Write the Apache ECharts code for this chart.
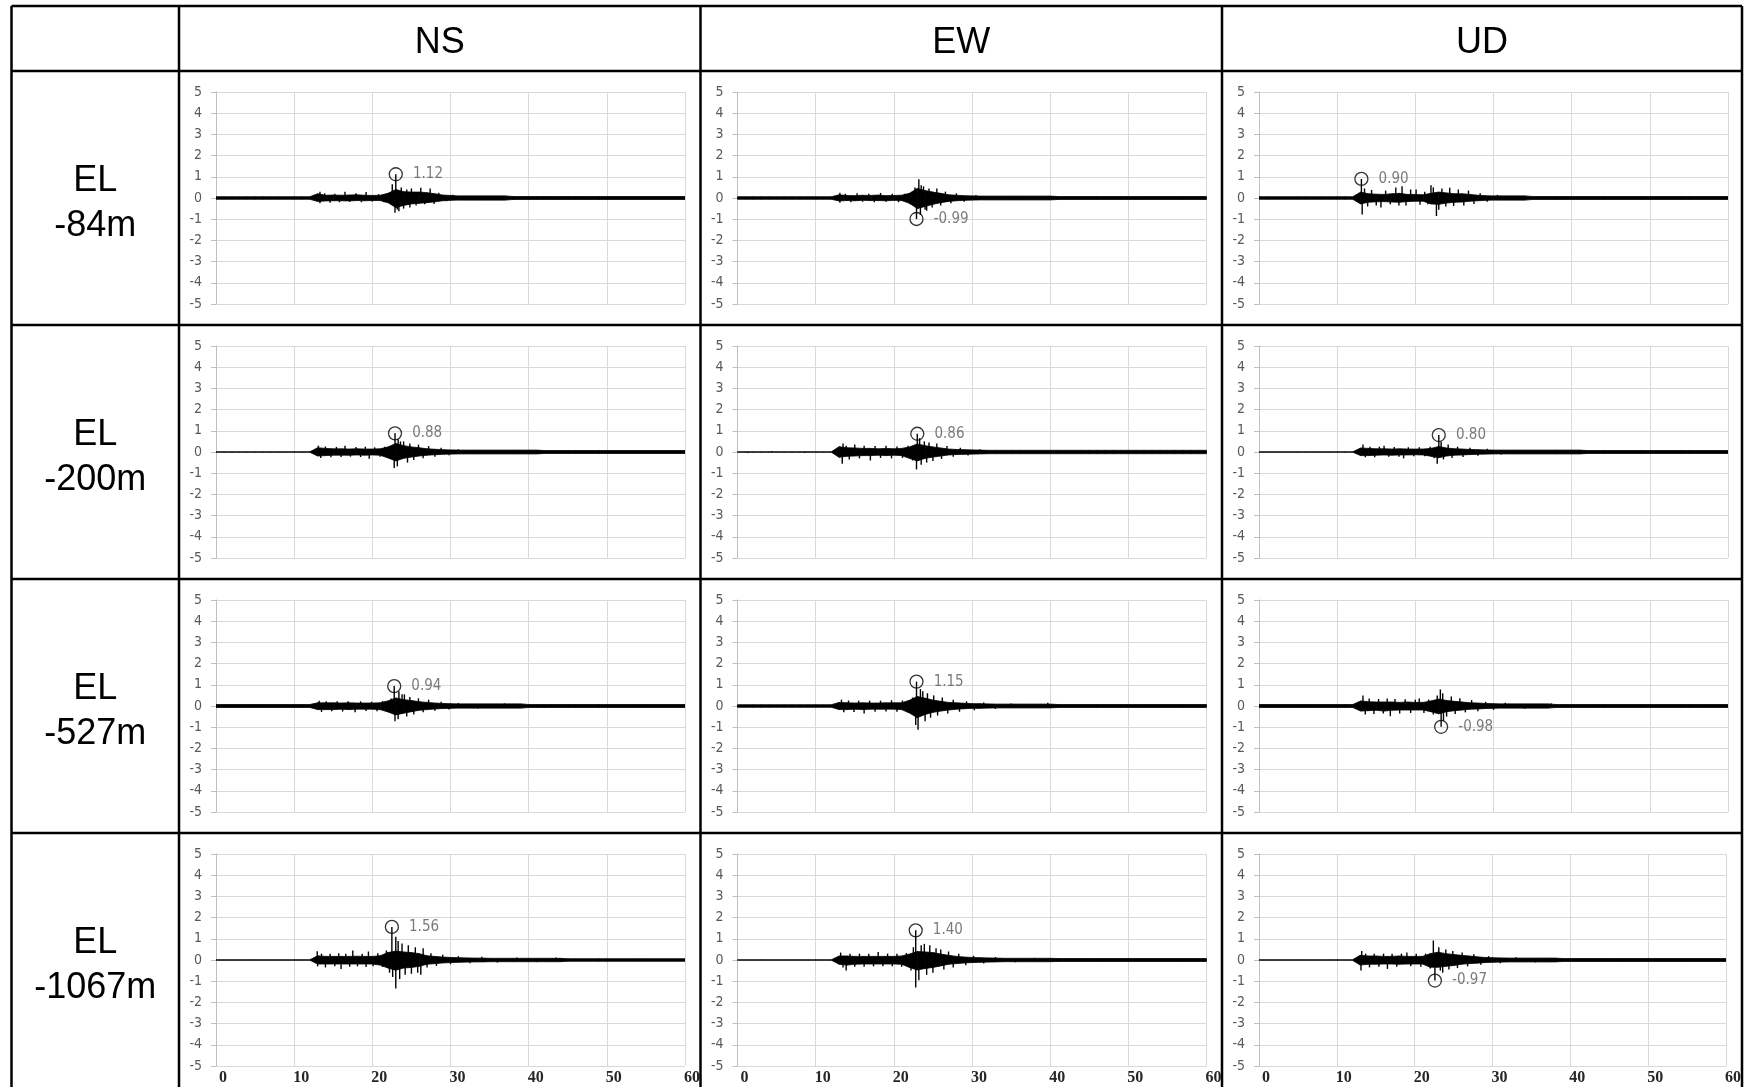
<!DOCTYPE html>
<html><head><meta charset="utf-8">
<script src="https://cdn.jsdelivr.net/npm/echarts@6/dist/echarts.min.js"></script>
<style>html,body{margin:0;padding:0;background:#fff}#c{width:1744px;height:1087px}</style>
</head><body><div id="c"></div><script>
// ---------- labels ----------
const COLUMN_TITLES = ['NS', 'EW', 'UD'];
const ROW_TITLES = [['EL', '-84m'], ['EL', '-200m'], ['EL', '-527m'], ['EL', '-1067m']];
const X_TICKS = [0, 10, 20, 30, 40, 50, 60];
const Y_MIN = -5, Y_MAX = 5;

// ---------- waveforms: dense-core envelope (units of 0.01), one value per second t = 0..60,
// ---------- plus individual spikes [t, value] and the labelled peak [t, value]
// EL -84m
const NS84_UP = [6,6,6,6,6,6,6,6,6,6,6,6,6, 20,13,14,13,14,15,13,12,13,22,40,30,28,28,25,20,14,12,10, 10,10,10,10,10,10, 7,7,7,7,7,7,7,7,7,7,7,7,7,7,7,7,7,7,7,7,7,7,7];
const NS84_LO = [-6,-6,-6,-6,-6,-6,-6,-6,-6,-6,-6,-6,-6, -16,-14,-13,-13,-14,-12,-13,-12,-12,-22,-45,-35,-28,-25,-22,-18,-13,-11,-10, -10,-10,-10,-10,-10,-10, -7,-7,-7,-7,-7,-7,-7,-7,-7,-7,-7,-7,-7,-7,-7,-7,-7,-7,-7,-7,-7,-7,-7];
const NS84_SPIKES = [[13.3,0.30],[13.3,-0.25],[13.9,0.22],[14.6,-0.22],[15.2,0.20],[15.8,-0.20],[16.5,0.30],[17.1,-0.18],[17.9,0.22],[18.6,-0.20],[19.2,0.28],[20.0,-0.17],[20.8,0.18],[21.5,-0.20],[22.2,0.25],[22.55,0.65],[22.9,-0.70],[23.2,-0.55],[23.4,-0.62],[23.7,0.50],[24.0,-0.50],[24.4,0.40],[24.8,-0.45],[25.0,0.45],[25.6,-0.35],[26.2,0.48],[26.7,-0.30],[27.4,0.45],[27.9,-0.28],[28.5,0.25],[29.5,-0.15],[30.3,0.15]];
const NS84_PEAK = [23.0, 1.12];

const EW84_UP = [6,6,6,6,6,6,6,6,6,6,6,6,6, 15,12,11,13,12,14,11,12,13,22,45,35,28,22,15,13,11,10, 9,9,9,9,9,9,9,9,9,9, 7,7,7,7,7,7,7,7,7,7,7,7,7,7,7,7,7,7,7,7];
const EW84_LO = [-6,-6,-6,-6,-6,-6,-6,-6,-6,-6,-6,-6,-6, -14,-12,-13,-11,-12,-12,-13,-11,-12,-25,-50,-40,-30,-22,-16,-13,-11,-10, -9,-9,-9,-9,-9,-9,-9,-9,-9,-9, -7,-7,-7,-7,-7,-7,-7,-7,-7,-7,-7,-7,-7,-7,-7,-7,-7,-7,-7,-7];
const EW84_SPIKES = [[13.1,0.25],[13.1,-0.22],[13.8,0.20],[14.5,-0.20],[15.3,0.22],[16.0,-0.18],[16.8,0.20],[17.5,-0.20],[18.3,0.24],[19.0,-0.18],[19.8,0.20],[20.6,-0.20],[21.4,0.20],[22.1,-0.30],[22.7,0.50],[23.2,0.88],[23.4,-0.80],[23.5,0.60],[23.8,0.55],[24.0,-0.55],[24.2,-0.60],[24.5,0.45],[24.9,-0.45],[25.5,0.45],[26.0,-0.35],[26.6,0.30],[27.3,-0.25],[28.0,0.22],[29.0,-0.18],[30.5,0.14]];
const EW84_PEAK = [22.9, -0.99];

const UD84_UP = [6,6,6,6,6,6,6,6,6,6,6,6,6, 28,20,18,17,20,22,17,17,15,22,28,24,20,20,17,13,11,10, 10,10,10,10, 7,7,7,7,7,7,7,7,7,7,7,7,7,7,7,7,7,7,7,7,7,7,7,7,7,7];
const UD84_LO = [-6,-6,-6,-6,-6,-6,-6,-6,-6,-6,-6,-6,-6, -28,-20,-18,-17,-19,-20,-17,-15,-15,-28,-30,-24,-20,-19,-15,-13,-11,-10, -10,-10,-10,-10, -7,-7,-7,-7,-7,-7,-7,-7,-7,-7,-7,-7,-7,-7,-7,-7,-7,-7,-7,-7,-7,-7,-7,-7,-7,-7];
const UD84_SPIKES = [[13.2,-0.78],[13.5,0.45],[13.9,-0.40],[14.4,0.38],[15.0,-0.35],[15.6,-0.45],[16.2,0.35],[16.8,-0.30],[17.5,0.50],[17.9,-0.35],[18.3,0.55],[18.8,-0.35],[19.4,0.40],[20.1,0.40],[20.6,-0.32],[21.2,0.30],[21.6,-0.30],[22.0,0.60],[22.3,0.50],[22.7,-0.85],[23.0,-0.55],[23.4,0.45],[23.9,-0.40],[24.4,0.48],[24.9,-0.38],[25.5,0.40],[26.2,-0.35],[26.8,0.35],[27.5,-0.28],[28.3,0.22],[29.2,-0.18],[30.5,0.15]];
const UD84_PEAK = [13.1, 0.90];

// EL -200m
const NS200_UP = [1,1,1,1,1,1,1,1,1,1,1,1,1, 20,17,15,15,14,15,14,14,15,24,40,30,24,20,15,13,11,10, 9,9,9,9,9,9,9,9,9,9,9, 7,7,7,7,7,7,7,7,7,7,7,7,7,7,7,7,7,7,7];
const NS200_LO = [-1,-1,-1,-1,-1,-1,-1,-1,-1,-1,-1,-1,-1, -19,-17,-15,-15,-15,-14,-15,-14,-15,-28,-42,-30,-24,-19,-15,-13,-11,-10, -9,-9,-9,-9,-9,-9,-9,-9,-9,-9,-9, -7,-7,-7,-7,-7,-7,-7,-7,-7,-7,-7,-7,-7,-7,-7,-7,-7,-7,-7];
const NS200_SPIKES = [[13.1,0.30],[13.4,-0.28],[14.0,0.26],[14.7,-0.25],[15.4,0.24],[16.0,-0.24],[16.5,0.30],[17.2,-0.22],[17.9,0.24],[18.5,-0.24],[19.1,0.25],[19.6,-0.32],[20.3,0.22],[21.0,-0.22],[21.6,0.25],[22.3,-0.30],[22.8,-0.75],[23.2,-0.68],[23.3,0.60],[23.6,0.50],[24.0,0.50],[24.5,-0.50],[24.8,0.40],[25.3,-0.38],[25.9,0.35],[26.5,-0.30],[27.2,0.28],[28.0,-0.22],[28.8,0.20],[29.8,-0.15],[31.0,0.13]];
const NS200_PEAK = [22.9, 0.88];

const EW200_UP = [1,1,1,1,1,1,1,1,1,1,1,1,1, 25,20,19,17,17,15,17,15,17,24,38,30,24,19,14,12,11,10,9, 8,8,8,8,8,8,8,8,8,8,8,8,8,8,8,8,8,8,8,8,8,8,8,8,8,8,8,8,8];
const EW200_LO = [-1,-1,-1,-1,-1,-1,-1,-1,-1,-1,-1,-1,-1, -25,-20,-19,-17,-17,-15,-17,-15,-17,-30,-42,-30,-24,-19,-14,-12,-11,-10,-9, -8,-8,-8,-8,-8,-8,-8,-8,-8,-8,-8,-8,-8,-8,-8,-8,-8,-8,-8,-8,-8,-8,-8,-8,-8,-8,-8,-8,-8];
const EW200_SPIKES = [[1.3,-0.05],[4.4,0.05],[8.6,-0.05],[13.4,-0.55],[13.5,0.40],[13.9,0.30],[14.3,-0.35],[15.0,0.35],[15.6,-0.30],[16.2,0.30],[17.0,-0.40],[17.6,0.28],[18.3,-0.28],[19.0,0.30],[19.7,-0.30],[20.4,0.26],[21.1,-0.28],[21.8,0.30],[22.4,-0.40],[22.9,-0.82],[23.3,0.65],[23.5,-0.60],[23.9,0.50],[24.2,-0.50],[24.5,0.45],[25.0,-0.42],[25.5,0.40],[26.1,-0.33],[26.8,0.28],[27.6,-0.22],[28.5,0.20],[29.5,-0.17],[31.0,0.13]];
const EW200_PEAK = [23.0, 0.86];

const UD200_UP = [1,1,1,1,1,1,1,1,1,1,1,1,1, 19,17,15,15,14,15,14,14,14,17,26,19,15,14,12,11,10,9, 9,9,9,9,9,9,9,9,9,9,9, 7,7,7,7,7,7,7,7,7,7,7,7,7,7,7,7,7,7,7];
const UD200_LO = [-1,-1,-1,-1,-1,-1,-1,-1,-1,-1,-1,-1,-1, -17,-17,-15,-14,-15,-14,-14,-13,-14,-20,-27,-19,-15,-14,-12,-11,-10,-9, -9,-9,-9,-9,-9,-9,-9,-9,-9,-9,-9, -7,-7,-7,-7,-7,-7,-7,-7,-7,-7,-7,-7,-7,-7,-7,-7,-7,-7,-7];
const UD200_SPIKES = [[13.3,0.35],[13.6,-0.25],[14.2,0.25],[14.8,-0.25],[15.4,0.25],[16.0,0.30],[16.6,-0.22],[17.3,0.24],[17.9,-0.22],[18.5,-0.30],[19.1,0.22],[19.8,-0.20],[20.5,0.22],[21.2,-0.20],[21.9,0.25],[22.4,-0.30],[22.8,-0.55],[23.3,0.50],[23.6,-0.35],[24.2,0.35],[24.7,-0.28],[25.4,0.25],[26.1,-0.24],[27.0,0.20],[28.0,-0.18],[29.2,0.15],[31.0,-0.12],[33.0,0.10]];
const UD200_PEAK = [23.0, 0.80];

// EL -527m
const NS527_UP = [7,7,7,7,7,7,7,7,7,7,7,7,7, 15,15,15,14,15,14,14,14,15,24,38,30,26,20,17,14,12,11, 10,10,10,10,10,10,10,10,10, 7,7,7,7,7,7,7,7,7,7,7,7,7,7,7,7,7,7,7,7,7];
const NS527_LO = [-7,-7,-7,-7,-7,-7,-7,-7,-7,-7,-7,-7,-7, -17,-17,-17,-15,-17,-15,-15,-15,-17,-28,-42,-34,-27,-20,-17,-14,-12,-11, -10,-10,-10,-10,-10,-10,-10,-10,-10, -7,-7,-7,-7,-7,-7,-7,-7,-7,-7,-7,-7,-7,-7,-7,-7,-7,-7,-7,-7,-7];
const NS527_SPIKES = [[13.2,0.25],[13.5,-0.28],[14.1,0.22],[14.8,-0.25],[15.5,0.22],[16.2,-0.26],[16.9,0.22],[17.8,-0.30],[18.5,0.22],[19.2,-0.24],[19.9,0.20],[20.6,-0.25],[21.3,0.23],[22.0,-0.28],[22.4,0.35],[22.9,-0.72],[23.3,-0.62],[23.4,0.68],[23.8,0.55],[24.1,0.55],[24.4,-0.50],[24.8,0.42],[25.3,-0.40],[25.9,0.36],[26.5,-0.30],[27.2,0.30],[28.0,-0.22],[28.8,0.20],[29.8,-0.17],[31.0,0.14],[33.5,-0.12],[36.9,0.12],[42.0,-0.10]];
const NS527_PEAK = [22.8, 0.94];

const EW527_UP = [6,6,6,6,6,6,6,6,6,6,6,6,6, 17,15,14,15,14,14,15,15,15,27,45,37,28,22,17,15,13,11,11,10, 9,9,9,9,9,9,9,9, 7,7,7,7,7,7,7,7,7,7,7,7,7,7,7,7,7,7,7,7];
const EW527_LO = [-6,-6,-6,-6,-6,-6,-6,-6,-6,-6,-6,-6,-6, -17,-17,-15,-17,-15,-15,-15,-15,-17,-33,-55,-40,-30,-24,-19,-15,-13,-11,-11,-10, -9,-9,-9,-9,-9,-9,-9,-9, -7,-7,-7,-7,-7,-7,-7,-7,-7,-7,-7,-7,-7,-7,-7,-7,-7,-7,-7,-7];
const EW527_SPIKES = [[13.3,0.30],[13.6,-0.30],[14.2,0.26],[14.9,-0.28],[15.5,0.25],[16.2,-0.35],[16.9,0.25],[17.6,-0.27],[18.3,0.25],[19.0,-0.26],[19.7,0.27],[20.4,-0.27],[21.1,0.26],[21.8,-0.30],[22.4,0.40],[22.8,-0.90],[23.1,-1.12],[23.4,0.80],[23.7,0.70],[24.0,-0.72],[24.3,0.60],[24.7,-0.55],[25.1,0.50],[25.6,-0.45],[26.2,0.40],[26.9,-0.35],[27.6,0.30],[28.4,-0.27],[29.3,0.22],[30.3,-0.20],[31.5,0.17],[33.0,-0.14],[35.0,0.12],[39.7,0.15]];
const EW527_PEAK = [22.9, 1.15];

const UD527_UP = [7,7,7,7,7,7,7,7,7,7,7,7,7, 24,20,19,19,19,17,19,17,17,24,33,26,22,19,15,14,12,11, 10,10,10,10,10,10,10, 7,7,7,7,7,7,7,7,7,7,7,7,7,7,7,7,7,7,7,7,7,7,7];
const UD527_LO = [-7,-7,-7,-7,-7,-7,-7,-7,-7,-7,-7,-7,-7, -24,-22,-20,-24,-20,-19,-19,-19,-19,-27,-37,-27,-22,-19,-15,-14,-12,-11, -10,-10,-10,-10,-10,-10,-10, -7,-7,-7,-7,-7,-7,-7,-7,-7,-7,-7,-7,-7,-7,-7,-7,-7,-7,-7,-7,-7,-7,-7];
const UD527_SPIKES = [[13.3,0.50],[13.6,-0.40],[14.1,0.35],[14.7,-0.38],[15.3,0.33],[15.9,-0.35],[16.4,0.35],[16.8,-0.48],[17.4,0.33],[18.0,-0.35],[18.7,0.32],[19.4,-0.33],[20.0,0.30],[20.5,0.35],[21.1,-0.33],[21.7,0.30],[22.3,-0.40],[22.8,0.50],[23.2,0.78],[23.5,0.60],[23.6,-0.70],[24.0,-0.50],[24.6,0.45],[25.1,-0.38],[25.7,0.36],[26.4,-0.30],[27.2,0.28],[28.0,-0.25],[29.0,0.20],[30.0,-0.18],[31.5,0.15],[34.0,-0.13],[37.4,0.12]];
const UD527_PEAK = [23.3, -0.98];

// EL -1067m
const NS1067_UP = [1,1,1,1,1,1,1,1,1,1,1,1,1, 20,17,17,17,17,18,17,17,20,35,42,38,35,30,20,17,14,12,11,10,9,9,8, 8,8,8,8,8,8,8,8,8, 6,6,6,6,6,6,6,6,6,6,6,6,6,6,6,6];
const NS1067_LO = [-1,-1,-1,-1,-1,-1,-1,-1,-1,-1,-1,-1,-1, -19,-19,-19,-19,-19,-19,-19,-19,-24,-38,-48,-38,-35,-30,-20,-17,-14,-12,-11,-10,-9,-9,-8, -8,-8,-8,-8,-8,-8,-8,-8,-8, -6,-6,-6,-6,-6,-6,-6,-6,-6,-6,-6,-6,-6,-6,-6,-6];
const NS1067_SPIKES = [[12.95,0.41],[13.0,-0.30],[13.5,0.30],[14.0,-0.35],[14.6,0.30],[15.2,-0.30],[15.7,0.32],[16.0,-0.43],[16.6,0.30],[17.1,-0.32],[17.5,0.45],[18.1,-0.30],[18.7,0.30],[19.2,-0.33],[19.5,0.40],[20.1,-0.30],[20.7,0.32],[21.3,-0.33],[21.8,0.45],[22.2,-0.60],[22.6,-0.80],[23.0,1.10],[23.0,-1.35],[23.3,0.90],[23.5,-0.90],[23.8,0.78],[24.2,-0.70],[24.6,0.70],[25.0,-0.65],[25.5,0.60],[25.8,-0.60],[26.2,-0.70],[26.5,0.55],[27.0,-0.35],[27.5,0.32],[28.2,-0.28],[29.0,0.25],[30.0,-0.20],[31.0,0.18],[32.5,-0.15],[34.0,0.15],[36.0,-0.12],[38.5,0.12],[41.0,-0.10],[43.5,0.12]];
const NS1067_PEAK = [22.5, 1.56];

const EW1067_UP = [1,1,1,1,1,1,1,1,1,1,1,1,1, 19,19,17,17,17,17,17,17,19,28,40,38,35,28,22,17,14,12,11,10,9, 8,8,8,8,8,8,8, 7,7,7,7,7,7,7,7,7,7,7,7,7,7,7,7,7,7,7,7];
const EW1067_LO = [-1,-1,-1,-1,-1,-1,-1,-1,-1,-1,-1,-1,-1, -20,-24,-20,-19,-19,-19,-19,-19,-20,-35,-47,-40,-35,-28,-20,-17,-14,-12,-11,-10,-9, -8,-8,-8,-8,-8,-8,-8, -7,-7,-7,-7,-7,-7,-7,-7,-7,-7,-7,-7,-7,-7,-7,-7,-7,-7,-7,-7];
const EW1067_SPIKES = [[13.2,0.35],[13.5,-0.35],[13.9,-0.50],[14.4,0.30],[15.0,-0.32],[15.6,0.30],[16.2,-0.32],[16.8,0.30],[17.4,-0.30],[18.0,0.38],[18.6,-0.30],[19.2,0.30],[19.8,-0.30],[20.4,0.30],[21.0,-0.32],[21.6,0.33],[22.2,-0.50],[22.5,0.60],[22.8,-1.30],[23.2,-0.95],[23.5,0.70],[23.9,0.76],[24.2,-0.70],[24.6,0.70],[25.0,-0.60],[25.4,0.55],[26.0,0.50],[26.4,-0.45],[27.0,0.40],[27.6,-0.35],[28.3,0.30],[29.2,-0.25],[30.2,0.20],[31.5,-0.17],[33.0,0.14],[35.5,-0.11],[38.0,0.10]];
const EW1067_PEAK = [22.8, 1.40];

const UD1067_UP = [1,1,1,1,1,1,1,1,1,1,1,1,1, 22,19,19,17,17,19,17,17,17,30,37,30,26,22,19,15,12,11,10, 9,9,9,9,9,9,9, 7,7,7,7,7,7,7,7,7,7,7,7,7,7,7,7,7,7,7,7,7,7];
const UD1067_LO = [-1,-1,-1,-1,-1,-1,-1,-1,-1,-1,-1,-1,-1, -24,-20,-20,-19,-19,-20,-19,-19,-19,-34,-34,-30,-26,-20,-17,-15,-12,-11,-10, -9,-9,-9,-9,-9,-9,-9, -7,-7,-7,-7,-7,-7,-7,-7,-7,-7,-7,-7,-7,-7,-7,-7,-7,-7,-7,-7,-7,-7];
const UD1067_SPIKES = [[13.1,-0.50],[13.2,0.42],[13.7,0.30],[14.2,-0.35],[14.8,0.30],[15.4,-0.32],[16.0,0.30],[16.5,-0.42],[17.1,0.30],[17.7,-0.32],[18.3,0.30],[19.0,0.35],[19.5,-0.30],[20.2,0.30],[20.8,-0.32],[21.4,0.30],[22.0,-0.40],[22.4,0.92],[23.1,0.60],[23.3,-0.50],[23.6,-0.60],[24.0,0.50],[24.4,-0.45],[24.9,0.42],[25.5,-0.38],[26.1,0.35],[26.8,-0.30],[27.6,0.27],[28.5,-0.22],[29.5,0.18],[31.0,-0.15],[33.0,0.13],[35.5,-0.11],[38.0,0.10]];
const UD1067_PEAK = [22.6, -0.97];

const PANELS = [
  [{up:NS84_UP, lo:NS84_LO, spikes:NS84_SPIKES, peak:NS84_PEAK}, {up:EW84_UP, lo:EW84_LO, spikes:EW84_SPIKES, peak:EW84_PEAK}, {up:UD84_UP, lo:UD84_LO, spikes:UD84_SPIKES, peak:UD84_PEAK}],
  [{up:NS200_UP, lo:NS200_LO, spikes:NS200_SPIKES, peak:NS200_PEAK}, {up:EW200_UP, lo:EW200_LO, spikes:EW200_SPIKES, peak:EW200_PEAK}, {up:UD200_UP, lo:UD200_LO, spikes:UD200_SPIKES, peak:UD200_PEAK}],
  [{up:NS527_UP, lo:NS527_LO, spikes:NS527_SPIKES, peak:NS527_PEAK}, {up:EW527_UP, lo:EW527_LO, spikes:EW527_SPIKES, peak:EW527_PEAK}, {up:UD527_UP, lo:UD527_LO, spikes:UD527_SPIKES, peak:UD527_PEAK}],
  [{up:NS1067_UP, lo:NS1067_LO, spikes:NS1067_SPIKES, peak:NS1067_PEAK}, {up:EW1067_UP, lo:EW1067_LO, spikes:EW1067_SPIKES, peak:EW1067_PEAK}, {up:UD1067_UP, lo:UD1067_LO, spikes:UD1067_SPIKES, peak:UD1067_PEAK}]
];

// ---------- layout ----------
const NARROW = '"Liberation Sans Narrow","Arial Narrow","DejaVu Sans Condensed",sans-serif';
const COL_X = [179, 700.5, 1222, 1742];
const ROW_Y = [71, 325, 579, 833, 1087];
const TABLE_LEFT = 11.5, TABLE_TOP = 6;

function bandRender(up, lo) {
  return function (params, api) {
    const i = params.dataIndex;
    if (i >= up.length - 1) return null;
    const pts = [
      api.coord([i, up[i] / 100]), api.coord([i + 1, up[i + 1] / 100]),
      api.coord([i + 1, lo[i + 1] / 100]), api.coord([i, lo[i] / 100])
    ];
    return { type: 'polygon', shape: { points: pts }, style: { fill: '#000', stroke: '#000', lineWidth: 0.8 } };
  };
}
function spikeRender(params, api) {
  const a = api.coord([api.value(0), 0]);
  const b = api.coord([api.value(0), api.value(1)]);
  return { type: 'line', shape: { x1: a[0], y1: a[1], x2: b[0], y2: b[1] }, style: { stroke: '#000', lineWidth: 1.4 } };
}

const grids = [], xAxes = [], yAxes = [], series = [];
PANELS.forEach((row, r) => row.forEach((p, c) => {
  const gi = grids.length;
  grids.push({ left: COL_X[c] + 37, top: ROW_Y[r] + 21, width: 469, height: 212 });
  xAxes.push({
    gridIndex: gi, type: 'value', min: X_TICKS[0], max: X_TICKS[X_TICKS.length - 1], interval: 10,
    axisLine: { show: false, onZero: false }, axisTick: { show: false },
    splitLine: { show: true, lineStyle: { color: '#d9d9d9', width: 1 } },
    axisLabel: {
      show: r === PANELS.length - 1, margin: 4, padding: [0, 0, 0, 14],
      color: '#262626', fontSize: 16, fontWeight: 'bold', fontFamily: '"Liberation Serif","DejaVu Serif",serif',
      showMinLabel: true, showMaxLabel: true
    }
  });
  yAxes.push({
    gridIndex: gi, type: 'value', min: Y_MIN, max: Y_MAX, interval: 1,
    axisLine: { show: true, onZero: false, lineStyle: { color: '#bfbfbf', width: 1 } },
    axisTick: { show: true, length: 5, lineStyle: { color: '#bfbfbf' } },
    splitLine: { show: true, lineStyle: { color: '#d9d9d9', width: 1 } },
    axisLabel: { color: '#595959', fontSize: 14, fontFamily: NARROW, margin: 14 }
  });
  series.push({
    type: 'custom', xAxisIndex: gi, yAxisIndex: gi, renderItem: bandRender(p.up, p.lo),
    data: p.up.map((v, i) => [i, v / 100, p.lo[i] / 100]), clip: true, silent: true, z: 3
  });
  series.push({
    type: 'custom', xAxisIndex: gi, yAxisIndex: gi, renderItem: spikeRender,
    data: p.spikes.concat([p.peak]), clip: true, silent: true, z: 4
  });
  series.push({
    type: 'scatter', xAxisIndex: gi, yAxisIndex: gi, data: [p.peak], symbol: 'circle', symbolSize: 13,
    itemStyle: { color: 'rgba(0,0,0,0)', borderColor: '#000', borderWidth: 1.3 }, silent: true, z: 5,
    label: {
      show: true, position: 'right', distance: 10, color: '#595959', fontSize: 15, fontFamily: NARROW,
      formatter: (d) => d.value[1].toFixed(2)
    }
  });
}));

// ---------- table frame and titles ----------
const LINE = { stroke: '#000', lineWidth: 2.5 };
const graphics = [];
[TABLE_TOP].concat(ROW_Y.slice(0, 4)).forEach(y => graphics.push({ type: 'line', shape: { x1: TABLE_LEFT, y1: y, x2: COL_X[3], y2: y }, style: LINE, z: 100 }));
[TABLE_LEFT].concat(COL_X).forEach(x => graphics.push({ type: 'line', shape: { x1: x, y1: TABLE_TOP, x2: x, y2: 1087 }, style: LINE, z: 100 }));
COLUMN_TITLES.forEach((t, c) => graphics.push({
  type: 'text', z: 100,
  style: { text: t, x: (COL_X[c] + COL_X[c + 1]) / 2, y: (TABLE_TOP + ROW_Y[0]) / 2 + 4.5, align: 'center', verticalAlign: 'middle',
    fill: '#000', fontSize: 36, fontFamily: '"Liberation Sans",Arial,sans-serif' }
}));
ROW_TITLES.forEach((lines, r) => {
  const cy = (ROW_Y[r] + ROW_Y[r + 1]) / 2 + 6;
  lines.forEach((t, k) => graphics.push({
    type: 'text', z: 100,
    style: { text: t, x: (TABLE_LEFT + COL_X[0]) / 2, y: cy + (k === 0 ? -22.5 : 22.5), align: 'center', verticalAlign: 'middle',
      fill: '#000', fontSize: 36, fontFamily: '"Liberation Sans",Arial,sans-serif' }
  }));
});

const chart = echarts.init(document.getElementById('c'), null, { renderer: 'canvas' });
chart.setOption({
  backgroundColor: '#fff', animation: false,
  grid: grids, xAxis: xAxes, yAxis: yAxes, series: series, graphic: graphics
});
</script></body></html>
